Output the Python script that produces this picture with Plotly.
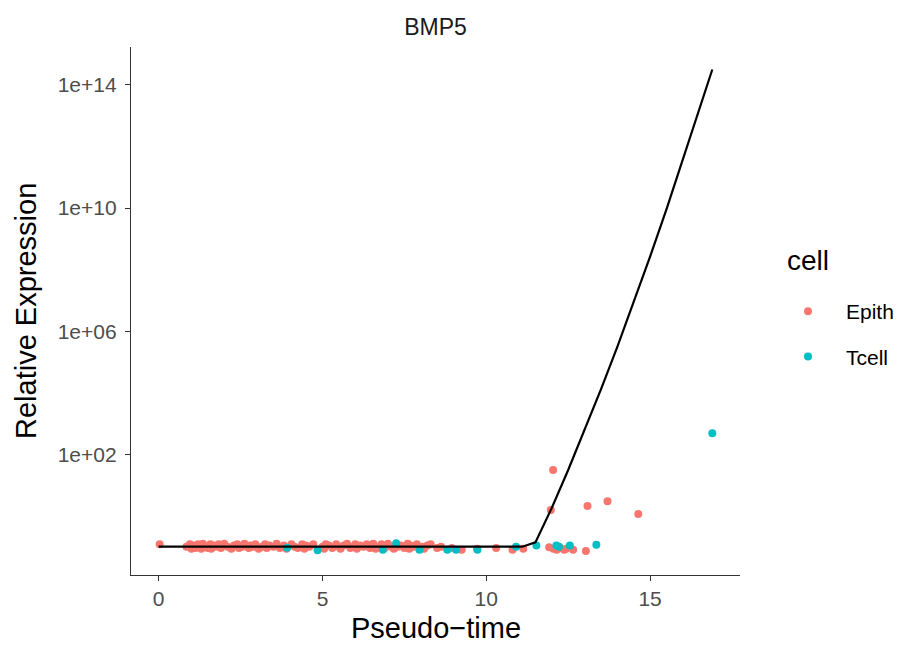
import plotly.graph_objects as go

# ---- data ----
epith_time = [0.03,
    0.85, 0.95, 1.0, 1.05, 1.12, 1.2, 1.28, 1.3, 1.35, 1.42, 1.5, 1.58, 1.6, 1.65, 1.75, 1.83, 1.9, 1.95,
    2.0, 2.1, 2.22, 2.3, 2.4, 2.45, 2.55, 2.62, 2.75, 2.8, 2.88, 2.95, 3.05, 3.15, 3.25, 3.3, 3.38,
    3.5, 3.6, 3.7, 3.82, 3.9, 4.05, 4.15, 4.25, 4.38, 4.45, 4.5, 4.6, 4.72, 5.0, 5.05, 5.1, 5.2, 5.3,
    5.42, 5.5, 5.55, 5.65, 5.75, 5.85, 5.95, 6.0, 6.05, 6.15, 6.25, 6.35, 6.45, 6.5, 6.55, 6.62,
    6.72, 6.8, 6.9, 6.92, 7.0, 7.1, 7.18, 7.25, 7.3, 7.4, 7.5, 7.6, 7.65, 7.68, 7.78, 7.88, 8.05,
    8.1, 8.2, 8.3, 8.5, 8.62, 8.95, 9.25, 9.72, 10.3, 10.8, 11.13,
    11.92, 12.05, 12.15, 12.25, 12.38, 12.44, 12.65, 13.04,
    12.04, 11.97, 13.09, 13.70, 14.64]
epith_expr = [0.12,
    0.10, 0.12, 0.085, 0.11, 0.09, 0.12, 0.10, 0.085, 0.125, 0.10, 0.09, 0.12, 0.085, 0.11, 0.10, 0.12, 0.09, 0.11,
    0.125, 0.10, 0.085, 0.11, 0.12, 0.09, 0.10, 0.125, 0.09, 0.11, 0.10, 0.12, 0.085, 0.10, 0.12, 0.09, 0.11,
    0.10, 0.125, 0.09, 0.11, 0.085, 0.12, 0.10, 0.09, 0.12, 0.085, 0.11, 0.10, 0.12, 0.10, 0.085, 0.12, 0.11, 0.09,
    0.12, 0.10, 0.085, 0.11, 0.125, 0.09, 0.10, 0.12, 0.085, 0.11, 0.10, 0.12, 0.09, 0.11, 0.125, 0.085,
    0.10, 0.12, 0.09, 0.11, 0.125, 0.10, 0.085, 0.12, 0.10, 0.11, 0.09, 0.125, 0.085, 0.11, 0.10, 0.12, 0.10,
    0.085, 0.11, 0.12, 0.09, 0.10, 0.09, 0.08, 0.085, 0.09, 0.08, 0.085,
    0.095, 0.085, 0.08, 0.09, 0.08, 0.085, 0.08, 0.073,
    31.0, 1.55, 2.1, 3.0, 1.15]
tcell_time = [3.92, 4.85, 6.84, 7.25, 7.96, 8.81, 9.08, 9.73, 10.91, 11.53, 12.14, 12.22, 12.55, 13.36, 16.90]
tcell_expr = [0.093, 0.077, 0.08, 0.13, 0.08, 0.08, 0.08, 0.08, 0.10, 0.11, 0.11, 0.10, 0.11, 0.115, 480.0]

curve_time = [0, 1, 2, 3, 4, 5, 6, 7, 8, 9, 10, 11, 11.1, 11.5, 12.0, 12.5, 13.0, 13.5, 14.0, 14.5,
              15.0, 15.5, 16.0, 16.5, 16.9]
curve_expr = [0.1, 0.1, 0.1, 0.1, 0.1, 0.1, 0.1, 0.1, 0.1, 0.1, 0.1, 0.1, 0.1, 0.138, 1.82, 30.9,
              589, 1.29e4, 3.09e5, 8.5e6, 2.63e8, 9.1e9, 3.63e11, 1.58e13, 3.16e14]

y_tickvals = [1e2, 1e6, 1e10, 1e14]
y_ticktext = ["1e+02", "1e+06", "1e+10", "1e+14"]
x_tickvals = [0, 5, 10, 15]

FONT = "Liberation Sans, Arial, sans-serif"
W, H = 900, 643          # page body adds an 8px offset
L, R, T, B = 123, 168, 39, 76
PW, PH = W - L - R, H - T - B


def px_x(x):  # figure pixel -> paper x
    return (x - L) / PW


def px_y(y):  # figure pixel -> paper y
    return (H - B - y) / PH


fig = go.Figure()
fig.add_trace(go.Scatter(x=epith_time, y=epith_expr, mode="markers", name="Epith", legendgroup="a",
                         marker=dict(color="#F8766D", size=8, line=dict(width=0))))
fig.add_trace(go.Scatter(x=tcell_time, y=tcell_expr, mode="markers", name="Tcell", legendgroup="b",
                         marker=dict(color="#00BFC4", size=8, line=dict(width=0))))
fig.add_trace(go.Scatter(x=curve_time, y=curve_expr, mode="lines", showlegend=False,
                         line=dict(color="black", width=2.2)))

axis_common = dict(showgrid=False, zeroline=False, showline=True, linecolor="#333333", linewidth=1.3,
                   ticks="outside", ticklen=5, tickcolor="#333333", tickwidth=1.3,
                   tickfont=dict(size=21, color="#4D4D4D", family=FONT), automargin=False)

fig.update_layout(
    width=W, height=H,
    margin=dict(l=L, r=R, t=T, b=B, autoexpand=False),
    plot_bgcolor="white", paper_bgcolor="white",
    font=dict(family=FONT, color="#4D4D4D"),
    title=dict(text="BMP5", x=(L + PW / 2) / W, xanchor="center", y=1 - 19 / H, yanchor="middle",
               font=dict(size=23, color="#1A1A1A", family=FONT)),
    xaxis=dict(range=[-0.845, 17.745], tickvals=x_tickvals, **axis_common),
    yaxis=dict(type="log", range=[-1.92, 15.23], tickvals=y_tickvals, ticktext=y_ticktext,
               ticklabelstandoff=4, **axis_common),
    legend=dict(x=px_x(762), y=px_y(283), xanchor="left", yanchor="top",
                font=dict(size=21, color="black"), itemsizing="trace",
                traceorder="grouped", tracegroupgap=15, itemwidth=66),
    annotations=[
        dict(text="cell", xref="paper", yref="paper", x=px_x(777), y=px_y(252),
             xanchor="left", yanchor="middle", showarrow=False,
             font=dict(size=28, color="black", family=FONT)),
        dict(text="Relative Expression", xref="paper", yref="paper", x=px_x(18), y=0.5,
             xanchor="center", yanchor="middle", textangle=-90, showarrow=False,
             font=dict(size=29, color="black", family=FONT)),
        dict(text="Pseudo\u2212time", xref="paper", yref="paper", x=0.5, y=px_y(620),
             xanchor="center", yanchor="middle", showarrow=False,
             font=dict(size=29, color="black", family=FONT)),
    ],
)

fig.write_html("out.html")
